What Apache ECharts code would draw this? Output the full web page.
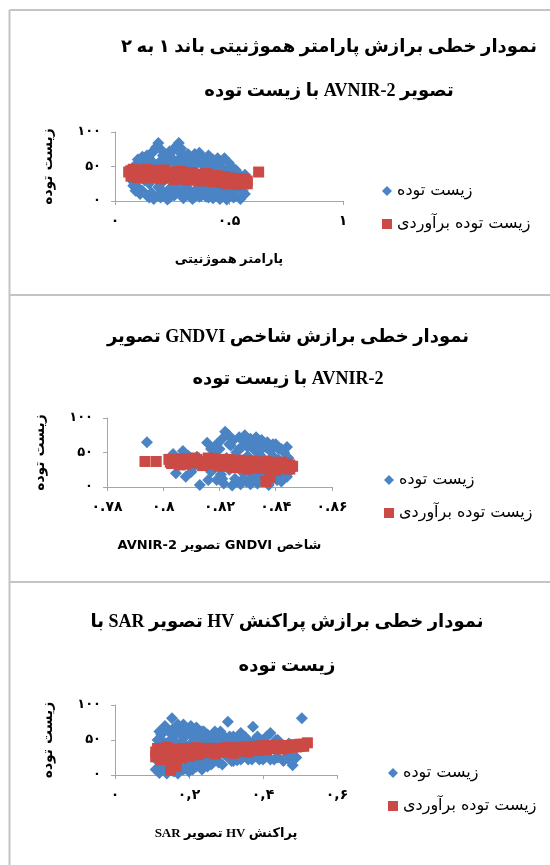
<!DOCTYPE html>
<html>
<head>
<meta charset="utf-8">
<script src="https://cdn.jsdelivr.net/npm/echarts@6/dist/echarts.min.js"></script>
<style>
  html, body { margin: 0; padding: 0; background: #fff; overflow: hidden; }
  #chart { width: 550px; height: 865px; }
</style>
</head>
<body>
<div id="chart"></div>
<script>
// ---- data ----
const seriesNames = ["زیست توده", "زیست توده برآوردی"];

const titles = [
  ["نمودار خطی برازش پارامتر هموژنیتی باند ۱ به ۲", "تصویر \u2066AVNIR-2\u2069 با زیست توده"],
  ["نمودار خطی برازش شاخص GNDVI تصویر", "\u2066AVNIR-2\u2069 با زیست توده"],
  ["نمودار خطی برازش پراکنش HV تصویر SAR با", "زیست توده"]
];
const xNames = ["پارامتر هموژنیتی", "شاخص GNDVI تصویر \u2066AVNIR-2\u2069", "پراکنش HV تصویر SAR"];
const yName = "زیست توده";

const yTickLabels = ["۰", "۵۰", "۱۰۰"];
const xTickLabels1 = ["۰", "۰.۵", "۱"];
const xTickLabels2 = ["۰.۷۸", "۰.۸", "۰.۸۲", "۰.۸۴", "۰.۸۶"];
const xTickLabels3 = ["۰", "۰,۲", "۰,۴", "۰,۶"];

// panel 1: homogeneity parameter vs biomass
const observed1 = [
  [0.07,38],[0.08,45],[0.08,28],[0.09,52],[0.10,20],[0.10,35],[0.11,58],[0.12,15],[0.12,48],[0.13,30],
  [0.13,55],[0.14,8],[0.14,42],[0.15,25],[0.15,62],[0.16,70],[0.16,12],[0.17,50],[0.17,3],[0.18,35],
  [0.18,78],[0.19,84],[0.19,20],[0.20,58],[0.20,5],[0.21,66],[0.21,28],[0.22,45],[0.22,10],[0.23,55],
  [0.23,2],[0.24,72],[0.24,18],[0.25,62],[0.25,38],[0.26,75],[0.26,8],[0.27,80],[0.27,25],[0.28,84],
  [0.28,48],[0.29,68],[0.29,12],[0.30,58],[0.30,4],[0.31,65],[0.31,22],[0.32,52],[0.32,9],[0.33,60],
  [0.33,30],[0.34,48],[0.34,3],[0.35,68],[0.35,15],[0.36,55],[0.36,26],[0.37,70],[0.37,6],[0.38,62],
  [0.38,40],[0.39,50],[0.39,12],[0.40,58],[0.40,20],[0.41,66],[0.41,5],[0.42,52],[0.42,30],[0.43,60],
  [0.43,14],[0.44,45],[0.44,8],[0.45,62],[0.45,22],[0.46,55],[0.46,3],[0.47,48],[0.47,18],[0.48,62],
  [0.48,10],[0.49,40],[0.49,2],[0.50,55],[0.50,25],[0.51,42],[0.51,12],[0.52,35],[0.52,5],[0.53,45],
  [0.53,20],[0.55,30],[0.55,3],[0.57,38],[0.57,10],
  [0.08,22],[0.09,15],[0.10,60],[0.11,10],[0.12,64],[0.14,66],[0.15,5],[0.16,58],[0.17,72],[0.18,52],
  [0.19,8],[0.20,75],[0.21,14],[0.22,62],[0.23,68],[0.24,5],[0.25,15],[0.26,55],[0.27,12],[0.28,60],
  [0.29,76],[0.30,18],[0.31,10],[0.32,68],[0.33,15],[0.34,58],[0.35,6],[0.36,64],[0.37,18],[0.38,8],
  [0.39,60],[0.40,6],[0.41,16],[0.42,62],[0.43,4],[0.44,55],[0.45,12],[0.46,45],[0.47,6],[0.48,20],
  [0.50,10],[0.51,50],[0.53,8],[0.54,40],[0.56,15]
];
const estimated1 = [
  [0.06,42],[0.07,36],[0.08,46],[0.09,40],[0.10,34],[0.11,44],[0.12,38],[0.13,42],[0.13,33],[0.14,46],
  [0.15,39],[0.16,35],[0.17,43],[0.18,37],[0.19,41],[0.20,32],[0.21,45],[0.22,38],[0.23,34],[0.24,42],
  [0.25,36],[0.26,31],[0.27,40],[0.28,35],[0.29,43],[0.30,33],[0.31,38],[0.32,30],[0.33,41],[0.34,35],
  [0.35,32],[0.36,39],[0.37,29],[0.38,36],[0.39,33],[0.40,40],[0.41,30],[0.42,35],[0.43,28],[0.44,37],
  [0.45,32],[0.46,27],[0.47,35],[0.48,30],[0.49,25],[0.50,33],[0.51,28],[0.52,31],[0.53,24],[0.54,30],
  [0.55,27],[0.56,32],[0.57,25],[0.58,29],[0.63,42],
  [0.07,44],[0.09,36],[0.11,38],[0.12,45],[0.14,36],[0.15,44],[0.16,41],[0.17,34],[0.18,44],[0.19,35],
  [0.20,42],[0.21,37],[0.22,44],[0.23,40],[0.24,33],[0.25,42],[0.26,38],[0.27,33],[0.28,41],[0.29,35],
  [0.30,40],[0.31,32],[0.32,39],[0.33,34],[0.34,40],[0.35,37],[0.36,31],[0.37,38],[0.38,30],[0.39,38],
  [0.40,31],[0.41,37],[0.42,29],[0.43,36],[0.44,30],[0.45,36],[0.46,33],[0.47,27],[0.48,35],[0.49,31],
  [0.50,27],[0.51,33],[0.52,26],[0.53,31],[0.54,25],[0.55,32],[0.56,26],[0.57,31],[0.58,25]
];

// panel 2: GNDVI vs biomass
const observed2 = [
  [0.7942,65],[0.8035,48],[0.8045,20],[0.806,40],[0.808,15],[0.809,45],[0.811,30],[0.813,3],[0.8145,38],[0.8156,64],
  [0.817,22],[0.818,48],[0.819,10],[0.8195,35],[0.820,55],[0.8205,18],[0.821,70],[0.8215,5],[0.822,80],[0.8225,42],
  [0.823,76],[0.8235,25],[0.824,60],[0.8245,2],[0.825,68],[0.8255,12],[0.826,50],[0.8265,30],[0.827,72],[0.8275,4],
  [0.828,58],[0.8285,20],[0.829,65],[0.8295,8],[0.830,45],[0.8305,28],[0.831,70],[0.8315,15],[0.832,55],[0.8325,35],
  [0.833,62],[0.8335,5],[0.834,48],[0.8345,22],[0.835,68],[0.8355,12],[0.836,40],[0.8365,58],[0.837,25],[0.8375,3],
  [0.838,52],[0.8385,18],[0.839,45],[0.8395,30],[0.840,62],[0.8405,10],[0.841,40],[0.8415,20],[0.842,55],[0.8425,28],
  [0.843,35],[0.844,15],[0.8445,42],
  [0.8025,42],[0.805,30],[0.807,52],[0.810,22],[0.812,44],[0.816,10],[0.817,55],[0.819,62],[0.821,12],[0.822,30],
  [0.8235,62],[0.825,40],[0.826,8],[0.827,55],[0.828,10],[0.829,75],[0.830,58],[0.831,4],[0.832,18],[0.833,72],
  [0.834,10],[0.835,55],[0.836,20],[0.837,65],[0.838,8],[0.839,62],[0.840,18],[0.841,55],[0.842,8],[0.843,50],
  [0.844,58],[0.8455,25]
];
const estimated2 = [
  [0.7935,37],[0.7975,37],[0.802,40],[0.803,34],[0.804,38],[0.806,36],[0.807,41],[0.808,33],[0.810,38],[0.811,35],
  [0.812,40],[0.814,31],[0.815,37],[0.816,42],[0.818,34],[0.819,38],[0.820,30],[0.821,36],[0.822,40],[0.823,33],
  [0.824,37],[0.825,28],[0.826,35],[0.827,39],[0.828,31],[0.829,36],[0.830,26],[0.831,34],[0.832,38],[0.833,30],
  [0.834,35],[0.835,27],[0.836,33],[0.8365,8],[0.837,37],[0.838,14],[0.838,29],[0.839,34],[0.840,24],[0.841,32],
  [0.842,36],[0.843,28],[0.844,33],[0.845,26],[0.846,30],
  [0.8025,36],[0.805,40],[0.806,32],[0.809,37],[0.811,42],[0.813,36],[0.815,33],[0.817,38],[0.818,41],[0.820,38],
  [0.821,32],[0.823,40],[0.824,30],[0.825,36],[0.827,32],[0.828,38],[0.829,28],[0.830,35],[0.832,31],[0.833,36],
  [0.834,28],[0.835,34],[0.837,30],[0.839,27],[0.840,35],[0.841,28],[0.843,33],[0.844,27],[0.845,32]
];

// panel 3: SAR HV backscatter vs biomass
const observed3 = [
  [0.11,30],[0.11,8],[0.115,50],[0.12,40],[0.12,3],[0.125,58],[0.13,20],[0.13,65],[0.135,12],[0.14,45],
  [0.14,2],[0.145,62],[0.15,28],[0.154,81],[0.155,6],[0.16,55],[0.16,38],[0.165,68],[0.17,15],[0.17,2],
  [0.175,60],[0.18,48],[0.18,25],[0.185,72],[0.19,10],[0.19,55],[0.195,35],[0.20,65],[0.20,18],[0.205,45],
  [0.21,58],[0.21,8],[0.215,28],[0.22,68],[0.22,40],[0.225,15],[0.23,52],[0.235,62],[0.24,22],[0.24,35],
  [0.245,48],[0.25,12],[0.25,58],[0.26,30],[0.26,45],[0.265,18],[0.27,55],[0.275,25],[0.28,40],[0.285,62],
  [0.29,15],[0.29,50],[0.30,28],[0.305,76],[0.31,45],[0.315,20],[0.32,55],[0.325,32],[0.33,21],[0.335,48],
  [0.34,60],[0.345,25],[0.35,40],[0.355,52],[0.36,22],[0.365,35],[0.373,69],[0.375,48],[0.38,28],[0.385,55],
  [0.39,22],[0.395,40],[0.40,50],[0.405,25],[0.41,45],[0.42,60],[0.42,22],[0.43,38],[0.435,50],[0.44,25],
  [0.45,42],[0.455,20],[0.46,35],[0.47,45],[0.475,30],[0.48,14],[0.49,40],[0.505,81],
  [0.115,20],[0.12,62],[0.125,10],[0.13,48],[0.135,70],[0.14,30],[0.145,15],[0.15,50],[0.155,65],[0.16,5],
  [0.165,45],[0.17,72],[0.175,22],[0.18,62],[0.185,8],[0.19,40],[0.195,60],[0.20,5],[0.205,70],[0.21,22],
  [0.215,52],[0.22,12],[0.225,60],[0.23,28],[0.235,8],[0.24,62],[0.25,25],[0.255,52],[0.26,15],[0.27,62],
  [0.275,45],[0.28,18],[0.29,58],[0.295,30],[0.31,55],[0.32,20],[0.33,50],[0.34,22],[0.35,55],[0.36,45],
  [0.37,22],[0.38,50],[0.40,22],[0.41,55],[0.43,22],[0.44,50],[0.46,24],[0.47,22],[0.49,25]
];
const estimated3 = [
  [0.11,33],[0.11,26],[0.115,38],[0.12,30],[0.125,22],[0.13,35],[0.135,28],[0.14,40],[0.145,25],[0.15,33],
  [0.15,7],[0.155,18],[0.16,37],[0.165,12],[0.17,29],[0.175,35],[0.18,24],[0.185,38],[0.19,31],[0.20,27],
  [0.205,36],[0.21,33],[0.22,39],[0.225,29],[0.23,35],[0.24,32],[0.25,38],[0.26,34],[0.27,30],[0.28,37],
  [0.29,33],[0.30,39],[0.31,35],[0.32,31],[0.33,38],[0.34,35],[0.35,40],[0.36,33],[0.37,37],[0.38,41],
  [0.39,35],[0.40,39],[0.41,36],[0.42,42],[0.43,38],[0.44,40],[0.45,37],[0.46,42],[0.47,39],[0.48,43],
  [0.49,40],[0.50,44],[0.51,41],[0.52,46],
  [0.115,30],[0.12,36],[0.13,27],[0.14,33],[0.145,36],[0.155,30],[0.16,25],[0.17,36],[0.175,28],[0.18,33],
  [0.19,37],[0.195,30],[0.20,35],[0.21,38],[0.215,31],[0.22,34],[0.23,38],[0.235,33],[0.24,37],[0.25,33],
  [0.26,38],[0.265,34],[0.27,37],[0.28,34],[0.29,38],[0.30,35],[0.31,39],[0.32,37],[0.33,34],[0.34,39],
  [0.35,36],[0.36,38],[0.37,40],[0.38,37],[0.39,39],[0.40,42],[0.41,39],[0.42,38],[0.43,41],[0.44,43],
  [0.45,40],[0.46,39],[0.47,42],[0.48,40],[0.49,43],[0.50,41],[0.51,44]
];

// ---- layout ----
const serif = "'Liberation Serif', 'DejaVu Sans', serif";
const sans = "'DejaVu Sans', 'Liberation Sans', sans-serif";
const blue = "#4A84C4";
const red = "#CC4A45";
const axisGray = "#a6a6a6";
const borderGray = "#c4c4c4";

const panels = [
  { grid: { left: 115, top: 132, width: 228, height: 69 }, x: [0, 1, 0.5], xLabels: xTickLabels1,
    titleX: 324, titleTop: 20, titleLH: 44, legend: [377, 175], xFont: serif, data: [observed1, estimated1] },
  { grid: { left: 107, top: 418, width: 225, height: 69 }, x: [0.78, 0.86, 0.02], xLabels: xTickLabels2,
    titleX: 283, titleTop: 311, titleLH: 42, legend: [379, 464], xFont: sans, data: [observed2, estimated2] },
  { grid: { left: 115, top: 705, width: 222, height: 70 }, x: [0, 0.6, 0.2], xLabels: xTickLabels3,
    titleX: 282, titleTop: 595, titleLH: 44, legend: [383, 757], xFont: serif, data: [observed3, estimated3] }
];

const rtl = (s) => "\u202B" + s + "\u202C";

const chart = echarts.init(document.getElementById("chart"));

const option = {
  animation: false,
  backgroundColor: "#fff",
  title: panels.map((p, i) => ({
    text: titles[i].map(rtl).join("\n"),
    left: p.titleX,
    top: p.titleTop,
    textAlign: "center",
    textStyle: { fontFamily: serif, fontSize: 18, fontWeight: "bold", color: "#000", lineHeight: p.titleLH }
  })),
  legend: panels.map((p, i) => ({
    orient: "vertical",
    left: p.legend[0],
    top: p.legend[1],
    itemWidth: 10,
    itemHeight: 10,
    itemGap: 11,
    data: seriesNames,
    textStyle: { fontFamily: sans, fontSize: 16, color: "#000", lineHeight: 22 }
  })),
  grid: panels.map((p) => p.grid),
  xAxis: panels.map((p, i) => ({
    type: "value",
    gridIndex: i,
    min: p.x[0],
    max: p.x[1],
    interval: p.x[2],
    name: rtl(xNames[i]),
    nameLocation: "middle",
    nameGap: 52,
    nameTextStyle: { fontFamily: p.xFont, fontSize: 13, fontWeight: "bold", color: "#000" },
    axisLine: { lineStyle: { color: axisGray, width: 1 } },
    axisTick: { show: true, length: 4, lineStyle: { color: axisGray } },
    splitLine: { show: false },
    axisLabel: {
      margin: 13,
      fontFamily: sans, fontSize: 14, fontWeight: "bold", color: "#000",
      formatter: (v, idx) => p.xLabels[idx]
    }
  })),
  yAxis: panels.map((p, i) => ({
    type: "value",
    gridIndex: i,
    min: 0,
    max: 100,
    interval: 50,
    name: yName,
    nameLocation: "middle",
    nameRotate: 90,
    nameGap: 60,
    nameTextStyle: { fontFamily: sans, fontSize: 14, fontWeight: "bold", color: "#000" },
    axisLine: { show: true, lineStyle: { color: axisGray, width: 1 } },
    axisTick: { show: true, length: 4, lineStyle: { color: axisGray } },
    splitLine: { show: false },
    axisLabel: {
      margin: 14,
      fontFamily: sans, fontSize: 13, fontWeight: "bold", color: "#000",
      formatter: (v, idx) => yTickLabels[idx]
    }
  })),
  series: panels.flatMap((p, i) => [
    {
      name: seriesNames[0], type: "scatter", xAxisIndex: i, yAxisIndex: i,
      symbol: "diamond", symbolSize: 12, itemStyle: { color: blue, opacity: 1 },
      data: p.data[0]
    },
    {
      name: seriesNames[1], type: "scatter", xAxisIndex: i, yAxisIndex: i,
      symbol: "rect", symbolSize: 11, itemStyle: { color: red, opacity: 1 },
      data: p.data[1]
    }
  ]),
  graphic: [
    { type: "line", shape: { x1: 9.5, y1: 10, x2: 9.5, y2: 865 }, style: { stroke: borderGray, lineWidth: 2 } },
    { type: "line", shape: { x1: 9.5, y1: 10, x2: 550, y2: 10 }, style: { stroke: borderGray, lineWidth: 2 } },
    { type: "line", shape: { x1: 9.5, y1: 295, x2: 550, y2: 295 }, style: { stroke: borderGray, lineWidth: 2 } },
    { type: "line", shape: { x1: 9.5, y1: 582, x2: 550, y2: 582 }, style: { stroke: borderGray, lineWidth: 2 } }
  ]
};

chart.setOption(option);
</script>
</body>
</html>
